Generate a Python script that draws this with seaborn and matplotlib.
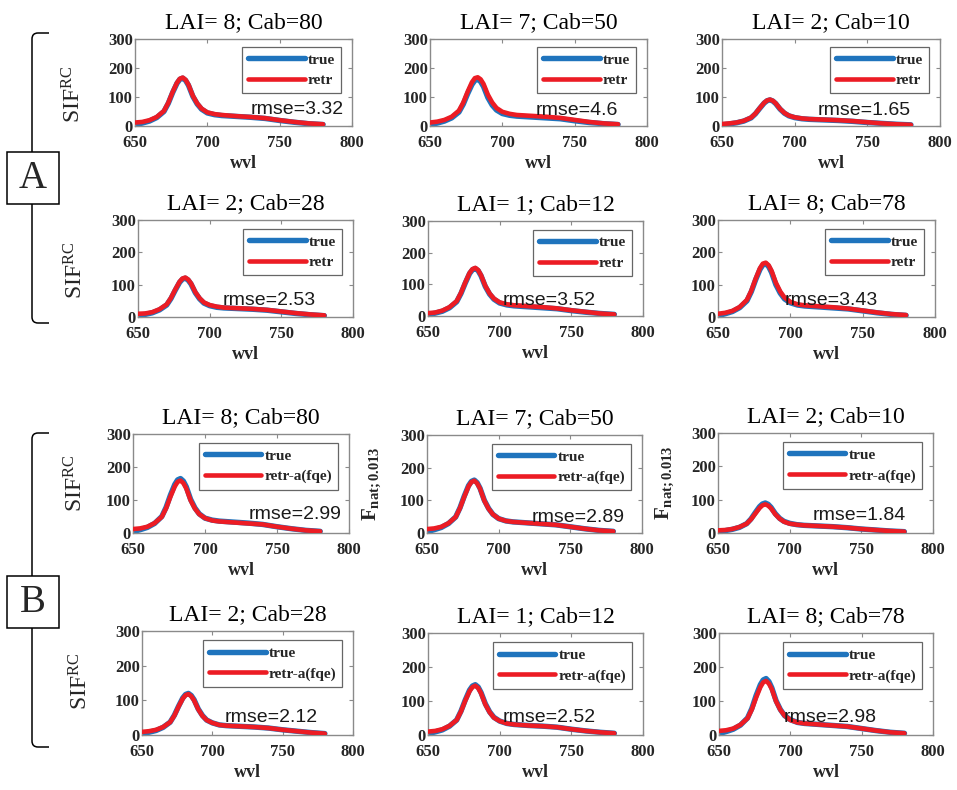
import matplotlib
matplotlib.use("Agg")
import matplotlib.pyplot as plt
import matplotlib.transforms as mtransforms
from matplotlib.path import Path
from matplotlib.patches import PathPatch, Rectangle
import seaborn as sns

# ---------------------------------------------------------------- data
wvl = [650, 655, 660, 665, 670, 673, 676, 679, 681, 683, 685, 687, 690,
       693, 696, 700, 705, 710, 720, 730, 740, 750, 760, 770, 780]

lai = [8, 7, 2, 2, 1, 8]
cab = [80, 50, 10, 28, 12, 78]

rmse_A = ["3.32", "4.6", "1.65", "2.53", "3.52", "3.43"]
rmse_B = ["2.99", "2.89", "1.84", "2.12", "2.52", "2.98"]

# set A: true SIF vs plain retrieval
true_A1 = [5, 10, 17, 29, 50, 78, 115, 147, 161, 165, 157, 140, 102, 76, 58, 45, 39, 36, 33, 30, 26, 19, 13, 8, 5]
retr_A1 = [12, 14, 20, 31, 52, 80, 117, 149, 163, 167, 159, 142, 104, 78, 60, 47, 41, 38, 34, 31, 27, 20, 14, 9, 6]
true_A2 = [5, 10, 17, 28, 48, 75, 111, 143, 157, 162, 153, 136, 98, 72, 55, 43, 37, 34, 31, 28, 25, 18, 12, 8, 5]
retr_A2 = [12, 15, 21, 32, 53, 81, 118, 151, 165, 168, 161, 145, 108, 81, 62, 49, 42, 38, 35, 32, 28, 21, 14, 9, 6]
true_A3 = [4, 7, 11, 17, 28, 42, 61, 79, 87, 90, 86, 77, 58, 44, 35, 29, 25, 23, 21, 19, 16, 12, 9, 6, 4]
retr_A3 = [7, 9, 12, 18, 29, 43, 62, 80, 88, 91, 87, 78, 59, 45, 36, 30, 26, 24, 22, 20, 17, 13, 9, 6, 4]
true_A4 = [5, 8, 13, 22, 37, 57, 83, 107, 117, 120, 114, 102, 75, 56, 43, 35, 30, 28, 26, 24, 21, 16, 11, 7, 4]
retr_A4 = [10, 11, 15, 24, 39, 59, 85, 109, 119, 122, 116, 104, 77, 58, 45, 37, 32, 29, 27, 25, 22, 17, 12, 8, 5]
true_A5 = [4, 9, 15, 26, 45, 71, 104, 134, 146, 150, 143, 127, 93, 69, 53, 41, 35, 32, 29, 26, 23, 17, 12, 8, 5]
retr_A5 = [9, 11, 17, 28, 47, 73, 106, 136, 148, 152, 145, 129, 95, 71, 55, 43, 37, 34, 31, 28, 24, 18, 13, 8, 5]
true_A6 = [4, 10, 17, 29, 50, 78, 115, 147, 161, 165, 156, 138, 100, 74, 56, 44, 37, 34, 31, 28, 25, 19, 13, 8, 5]
retr_A6 = [10, 13, 19, 31, 53, 81, 118, 151, 165, 168, 160, 143, 106, 79, 60, 47, 39, 36, 33, 30, 26, 20, 14, 9, 6]

# set B: true SIF vs retrieval with a(fqe)
true_B1 = [4, 10, 17, 29, 50, 78, 115, 147, 161, 165, 157, 140, 102, 76, 58, 45, 39, 36, 33, 30, 26, 19, 13, 8, 5]
retr_B1 = [12, 14, 19, 30, 49, 75, 110, 141, 155, 159, 151, 135, 99, 74, 57, 45, 38, 35, 32, 29, 26, 19, 13, 8, 5]
true_B2 = [4, 10, 17, 29, 49, 77, 113, 145, 158, 162, 154, 137, 100, 75, 57, 44, 37, 34, 31, 28, 25, 19, 13, 8, 5]
retr_B2 = [12, 14, 19, 30, 49, 76, 111, 143, 156, 160, 152, 136, 99, 74, 57, 44, 37, 34, 31, 28, 25, 19, 13, 8, 5]
true_B3 = [4, 7, 11, 17, 28, 42, 61, 79, 87, 90, 86, 77, 58, 44, 35, 29, 25, 23, 21, 19, 16, 12, 9, 6, 4]
retr_B3 = [8, 9, 12, 18, 28, 41, 58, 75, 83, 86, 82, 74, 56, 43, 34, 28, 25, 23, 21, 19, 16, 12, 9, 6, 4]
true_B4 = [4, 8, 13, 22, 37, 57, 83, 107, 117, 120, 114, 102, 75, 56, 43, 35, 29, 27, 25, 23, 20, 15, 11, 7, 4]
retr_B4 = [9, 11, 15, 23, 37, 56, 82, 105, 115, 118, 112, 100, 74, 55, 43, 35, 29, 27, 25, 23, 20, 15, 11, 7, 4]
true_B5 = [4, 9, 15, 26, 44, 70, 103, 132, 144, 148, 141, 125, 92, 68, 52, 41, 34, 31, 28, 26, 23, 17, 12, 8, 5]
retr_B5 = [10, 12, 17, 27, 44, 69, 101, 129, 141, 145, 138, 123, 90, 67, 51, 41, 34, 31, 28, 26, 23, 17, 12, 8, 5]
true_B6 = [4, 10, 17, 29, 50, 78, 116, 148, 162, 166, 157, 139, 101, 75, 57, 45, 37, 34, 31, 28, 25, 19, 13, 8, 5]
retr_B6 = [12, 14, 19, 30, 49, 75, 110, 141, 155, 159, 151, 135, 99, 74, 57, 44, 37, 34, 31, 28, 25, 19, 13, 8, 5]

x_ticks = [650, 700, 750, 800]
y_ticks = [0, 100, 200, 300]

# ---------------------------------------------------------------- style
sns.set_style("white")
plt.rcParams.update({
    "font.family": ["Liberation Serif", "DejaVu Serif"],
    "mathtext.fontset": "custom",
    "mathtext.rm": "Liberation Serif",
    "mathtext.it": "Liberation Serif:italic",
    "mathtext.bf": "Liberation Serif:bold",
    "axes.edgecolor": "#8a8a8a",
    "axes.linewidth": 1.0,
    "xtick.direction": "in",
    "ytick.direction": "in",
    "xtick.top": True,
    "ytick.right": True,
    "xtick.bottom": True,
    "ytick.left": True,
    "xtick.color": "#8a8a8a",
    "ytick.color": "#8a8a8a",
    "xtick.labelcolor": "#262626",
    "ytick.labelcolor": "#262626",
    "xtick.major.size": 3,
    "ytick.major.size": 3,
    "xtick.major.pad": 6.5,
    "ytick.major.pad": 1.5,
})

W, H = 957, 790
fig = plt.figure(figsize=(W / 100, H / 100), dpi=100)
fig.patch.set_facecolor("white")
px = mtransforms.Affine2D().scale(1 / W, -1 / H).translate(0, 1) + fig.transFigure

BLUE = "#1f74bd"
RED = "#ec1c24"

# panel frames in pixels: left, top, right, bottom
boxes = [
    [(135, 39, 352, 126), (430, 39, 647, 126), (722, 39, 940, 126)],
    [(138, 220, 353, 317), (428, 221, 643, 316), (718, 220, 935, 317)],
    [(133, 434, 349, 533), (427, 435, 642, 533), (718, 433, 933, 533)],
    [(142, 631, 353, 735), (428, 633, 643, 735), (719, 633, 933, 735)],
]
rmse_pos = [
    [(730, 41), (723, 38), (716, 39)],
    [(709, 37), (702, 35), (696, 37)],
    [(730, 42), (723, 34), (716, 39)],
    [(709, 37), (702, 37), (695, 37)],
]

sets = [
    ([true_A1, true_A2, true_A3, true_A4, true_A5, true_A6],
     [retr_A1, retr_A2, retr_A3, retr_A4, retr_A5, retr_A6], rmse_A, "retr"),
    ([true_B1, true_B2, true_B3, true_B4, true_B5, true_B6],
     [retr_B1, retr_B2, retr_B3, retr_B4, retr_B5, retr_B6], rmse_B, "retr-a(fqe)"),
]

for s, (trues, retrs, rmses, retr_name) in enumerate(sets):
    for k in range(6):
        row = 2 * s + k // 3
        col = k % 3
        l, t, r, b = boxes[row][col]
        ax = fig.add_axes([l / W, 1 - b / H, (r - l) / W, (b - t) / H])
        sns.lineplot(x=wvl, y=trues[k], ax=ax, color=BLUE, linewidth=3.9,
                     label="true", zorder=2)
        sns.lineplot(x=wvl, y=retrs[k], ax=ax, color=RED, linewidth=3.3,
                     label=retr_name, zorder=3)
        for ln in ax.lines:
            ln.set_solid_joinstyle("round")
            ln.set_solid_capstyle("round")
        ax.set_xlim(650, 800)
        ax.set_ylim(0, 300)
        ax.set_xticks(x_ticks)
        ax.set_yticks(y_ticks)
        for lbl in ax.get_xticklabels() + ax.get_yticklabels():
            lbl.set_fontweight("bold")
            lbl.set_fontsize(12)
        ax.set_xlabel("wvl", fontsize=13, fontweight="bold", color="#262626",
                      labelpad=3)
        ax.set_ylabel("")
        ax.set_title(f"LAI= {lai[k]}; Cab={cab[k]}", fontsize=17, pad=8,
                     color="black")
        for sp in ax.spines.values():
            sp.set_visible(True)
        leg = ax.legend(loc="upper right", bbox_to_anchor=(0.95, 0.91),
                        borderaxespad=0, frameon=True, fancybox=False,
                        handlelength=3.7, handletextpad=0.2, labelspacing=0.45,
                        borderpad=0.4,
                        prop={"family": "Liberation Serif", "weight": "bold",
                              "size": 11})
        leg.get_frame().set_edgecolor("#404040")
        leg.get_frame().set_linewidth(0.9)
        for txt in leg.get_texts():
            txt.set_color("#262626")
        tx, ty = rmse_pos[row][col]
        ax.text(tx, ty, f"rmse={rmses[k]}", fontsize=14,
                family=["Liberation Sans", "DejaVu Sans"], color="#1a1a1a",
                va="baseline", zorder=5)

# y-axis labels
sif_label = r"SIF$^{\mathrm{RC}}$"
for (xc, yc) in [(74, 94), (76, 270), (76, 483), (81, 681)]:
    fig.text(xc, yc, sif_label, transform=px, rotation=90, ha="center",
             va="center", fontsize=17)
for (xc, yc) in [(372, 484), (665, 483)]:
    fig.text(xc, yc, r"$\mathbf{F}_{\mathbf{nat;0.013}}$", transform=px,
             rotation=90, ha="center", va="center", fontsize=15)


# group brackets with lettered boxes
def bracket(x, y_top, y_bot, hook=17, rad=6):
    verts = [(x + hook, y_top), (x + rad, y_top), (x, y_top), (x, y_top + rad),
             (x, y_bot - rad), (x, y_bot), (x + rad, y_bot), (x + hook, y_bot)]
    codes = [Path.MOVETO, Path.LINETO, Path.CURVE3, Path.CURVE3,
             Path.LINETO, Path.CURVE3, Path.CURVE3, Path.LINETO]
    fig.patches.append(PathPatch(Path(verts, codes), transform=px, fill=False,
                                 edgecolor="black", linewidth=1.1))


def letter_box(x0, y0, size, letter):
    fig.patches.append(Rectangle((x0, y0), size, size, transform=px,
                                 facecolor="white", edgecolor="black",
                                 linewidth=1.1, zorder=3))
    fig.text(x0 + size / 2, y0 + size / 2 + 1, letter, transform=px,
             ha="center", va="center", fontsize=28, zorder=4)


bracket(32, 33, 323)
letter_box(7, 152, 52, "A")
bracket(32, 433, 747)
letter_box(7, 576, 52, "B")

fig.savefig("out.png", dpi=100, facecolor="white")
